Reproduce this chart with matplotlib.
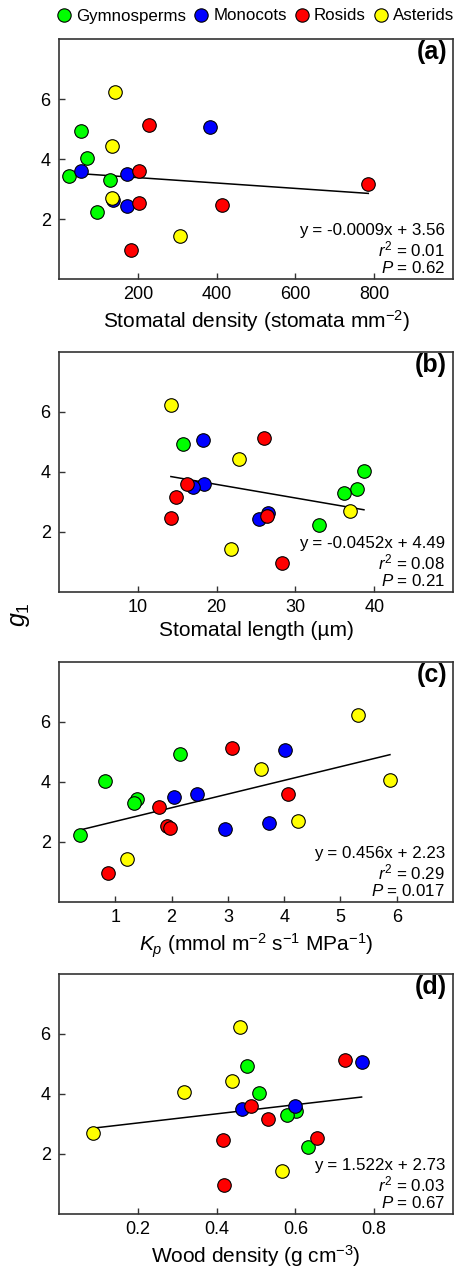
import matplotlib
matplotlib.use("Agg")
import matplotlib.pyplot as plt
from matplotlib.lines import Line2D
import numpy as np

plt.rcParams["font.family"] = ["Liberation Sans", "DejaVu Sans"]
plt.rcParams["mathtext.fontset"] = "custom"
plt.rcParams["mathtext.rm"] = "Liberation Sans"
plt.rcParams["mathtext.it"] = "Liberation Sans:italic"
plt.rcParams["mathtext.bf"] = "Liberation Sans:bold"

nan = np.nan

groups = ["Gymnosperms", "Monocots", "Rosids", "Asterids"]
colors = ["#00ff00", "#0000ff", "#ff0000", "#ffff00"]

# g1 for each species, grouped by clade
g1_gymno = [4.94, 4.05, 3.45, 3.31, 2.25]
g1_mono = [5.07, 3.60, 3.50, 2.65, 2.43]
g1_rosid = [5.14, 3.59, 3.18, 2.55, 2.48, 0.98]
g1_aster = [6.25, 4.42, 4.08, 2.71, 1.42]

# stomatal density (stomata mm-2)
sd_gymno = [56, 70, 26, 130, 96]
sd_mono = [383, 57, 173, 136, 172]
sd_rosid = [228, 204, 785, 202, 414, 182]
sd_aster = [141, 135, nan, 135, 308]

# stomatal length (um)
sl_gymno = [15.7, 38.7, 37.8, 36.2, 33.0]
sl_mono = [18.3, 18.4, 17.0, 26.5, 25.4]
sl_rosid = [26.0, 16.2, 14.8, 26.4, 14.2, 28.3]
sl_aster = [14.2, 22.9, nan, 36.9, 21.8]

# Kp (mmol m-2 s-1 MPa-1)
kp_gymno = [2.15, 0.82, 1.38, 1.34, 0.38]
kp_mono = [4.02, 2.46, 2.04, 3.73, 2.95]
kp_rosid = [3.08, 4.06, 1.77, 1.91, 1.98, 0.87]
kp_aster = [5.31, 3.59, 5.88, 4.25, 1.20]

# wood density (g cm-3)
wd_gymno = [0.478, 0.508, 0.601, 0.578, 0.631]
wd_mono = [0.768, 0.598, 0.464, nan, nan]
wd_rosid = [0.726, 0.488, 0.531, 0.655, 0.417, 0.418]
wd_aster = [0.459, 0.439, 0.316, 0.086, 0.565]

g1_all = [g1_gymno, g1_mono, g1_rosid, g1_aster]

panels = [
    dict(x=[sd_gymno, sd_mono, sd_rosid, sd_aster], slope=-0.0009, intercept=3.56,
         eq="y = -0.0009x + 3.56", r2="0.01", p="0.62", tag="(a)",
         xlim=(0, 1000), xticks=[200, 400, 600, 800], xticklabels=None,
         xlabel="Stomatal density (stomata mm$^{-2}$)"),
    dict(x=[sl_gymno, sl_mono, sl_rosid, sl_aster], slope=-0.0452, intercept=4.49,
         eq="y = -0.0452x + 4.49", r2="0.08", p="0.21", tag="(b)",
         xlim=(0, 50), xticks=[10, 20, 30, 40], xticklabels=None,
         xlabel="Stomatal length (µm)"),
    dict(x=[kp_gymno, kp_mono, kp_rosid, kp_aster], slope=0.456, intercept=2.23,
         eq="y = 0.456x + 2.23", r2="0.29", p="0.017", tag="(c)",
         xlim=(0, 7), xticks=[1, 2, 3, 4, 5, 6], xticklabels=None,
         xlabel="$K_p$ (mmol m$^{-2}$ s$^{-1}$ MPa$^{-1}$)"),
    dict(x=[wd_gymno, wd_mono, wd_rosid, wd_aster], slope=1.522, intercept=2.73,
         eq="y = 1.522x + 2.73", r2="0.03", p="0.67", tag="(d)",
         xlim=(0, 1), xticks=[0.2, 0.4, 0.6, 0.8], xticklabels=["0.2", "0.4", "0.6", "0.8"],
         xlabel="Wood density (g cm$^{-3}$)"),
]

W, H = 456, 1271
fig = plt.figure(figsize=(W / 100, H / 100), dpi=100)

# panel boxes in pixels: (top, bottom)
boxes = [(39, 279), (352, 592), (662, 902), (974, 1214)]
left, right = 59, 453
spine_col = "#333333"

for (top, bottom), pan in zip(boxes, panels):
    ax = fig.add_axes([left / W, 1 - bottom / H, (right - left) / W, (bottom - top) / H])

    xs = np.concatenate([np.array(v, dtype=float) for v in pan["x"]])
    x0, x1 = np.nanmin(xs), np.nanmax(xs)
    lx = np.array([x0, x1])
    ax.plot(lx, pan["slope"] * lx + pan["intercept"], color="black", lw=1.1, zorder=2)

    for xv, yv, c in zip(pan["x"], g1_all, colors):
        ax.scatter(xv, yv, s=95, color=c, edgecolor="black", linewidth=0.8, zorder=3)

    ax.set_xlim(*pan["xlim"])
    ax.set_ylim(0, 8)
    ax.set_yticks([2, 4, 6])
    ax.set_xticks(pan["xticks"])
    if pan["xticklabels"]:
        ax.set_xticklabels(pan["xticklabels"])
    ax.tick_params(direction="in", length=4, width=1, color=spine_col, labelsize=13)
    ax.tick_params(axis="x", pad=5)
    ax.tick_params(axis="y", pad=6)
    ax.tick_params(top=False, right=False)
    for sp in ax.spines.values():
        sp.set_color(spine_col)
        sp.set_linewidth(1.2)
    ax.set_xlabel(pan["xlabel"], fontsize=15, labelpad=4)

    ax.text(0.985, 0.945, pan["tag"], transform=ax.transAxes, ha="right", va="center",
            fontsize=18, fontweight="bold")
    ax.text(0.98, 0.204, pan["eq"], transform=ax.transAxes, ha="right", va="center", fontsize=12.2)
    ax.text(0.98, 0.125, "$r^2$ = " + pan["r2"], transform=ax.transAxes, ha="right", va="center",
            fontsize=12.2)
    ax.text(0.98, 0.046, "$P$ = " + pan["p"], transform=ax.transAxes, ha="right", va="center",
            fontsize=12.2)

fig.text(20 / W, 1 - 615 / H, "$g_\\mathregular{1}$", rotation=90, ha="center", va="center",
         fontsize=18)

handles = [Line2D([], [], marker="o", linestyle="", markerfacecolor=c, markeredgecolor="black",
                  markeredgewidth=0.8, markersize=9.6) for c in colors]
fig.legend(handles, groups, loc="center right", bbox_to_anchor=(454 / W, 1 - 16 / H), ncol=4,
           frameon=False, handletextpad=0.3, columnspacing=0.5, handlelength=0.8,
           fontsize=12.2, borderaxespad=0, borderpad=0)

fig.savefig("out.png", dpi=100)
